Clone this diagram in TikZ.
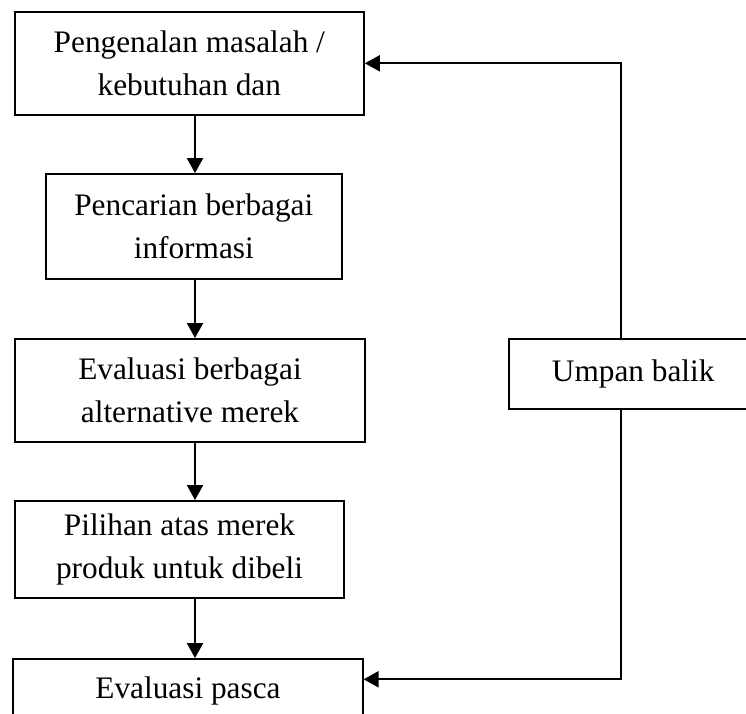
\documentclass[tikz,border=0pt]{standalone}
\usepackage{fontspec}
\setmainfont{Liberation Serif}
\usetikzlibrary{arrows.meta}
\begin{document}
\begin{tikzpicture}[x=1pt,y=-1pt,
  stepbox/.style={draw, line width=1.8pt, inner sep=0pt, align=center,
    font=\fontsize{31.3}{43.3}\selectfont},
  arr/.style={line width=2pt, -{Triangle[length=15pt,width=16pt]}},
  link/.style={line width=2pt}]
  \clip (0,0) rectangle (746,713);

  % process boxes
  \node[stepbox, minimum width=349.3pt, minimum height=103.3pt] (e1) at (189.3,63.3)
    {Pengenalan masalah /\\kebutuhan dan};
  \node[stepbox, minimum width=295.7pt, minimum height=105pt] (e2) at (193.8,226.5)
    {Pencarian berbagai\\informasi};
  \node[stepbox, minimum width=350pt, minimum height=102.7pt] (e3) at (190,390.3)
    {Evaluasi berbagai\\alternative merek};
  \node[stepbox, minimum width=329pt, minimum height=96.7pt] (e4) at (179.5,549.3)
    {Pilihan atas merek\\produk untuk dibeli};
  \node[stepbox, minimum width=349.4pt, minimum height=100pt] (e5) at (188,709) {};
  \node[anchor=base, inner sep=0pt, font=\fontsize{31.3}{43.3}\selectfont] (e5t) at (188,698)
    {Evaluasi pasca};

  % feedback box
  \node[stepbox, minimum width=247.7pt, minimum height=69.7pt] (ub) at (633.2,374.2)
    {Umpan balik};

  % guide coordinates for the connectors
  \coordinate (axis) at (195,0);
  \coordinate (fb) at (620.7,0);
  \coordinate (fbot) at (0,679.3);

  % main sequence
  \draw[arr] (e1.south -| axis) -- (e2.north -| axis);
  \draw[arr] (e2.south -| axis) -- (e3.north -| axis);
  \draw[arr] (e3.south -| axis) -- (e4.north -| axis);
  \draw[arr] (e4.south -| axis) -- (e5.north -| axis);

  % feedback loop
  \draw[arr] (ub.north -| fb) |- (e1.east);
  \draw[arr] (ub.south -| fb) |- (e5.east |- fbot);
\end{tikzpicture}
\end{document}
